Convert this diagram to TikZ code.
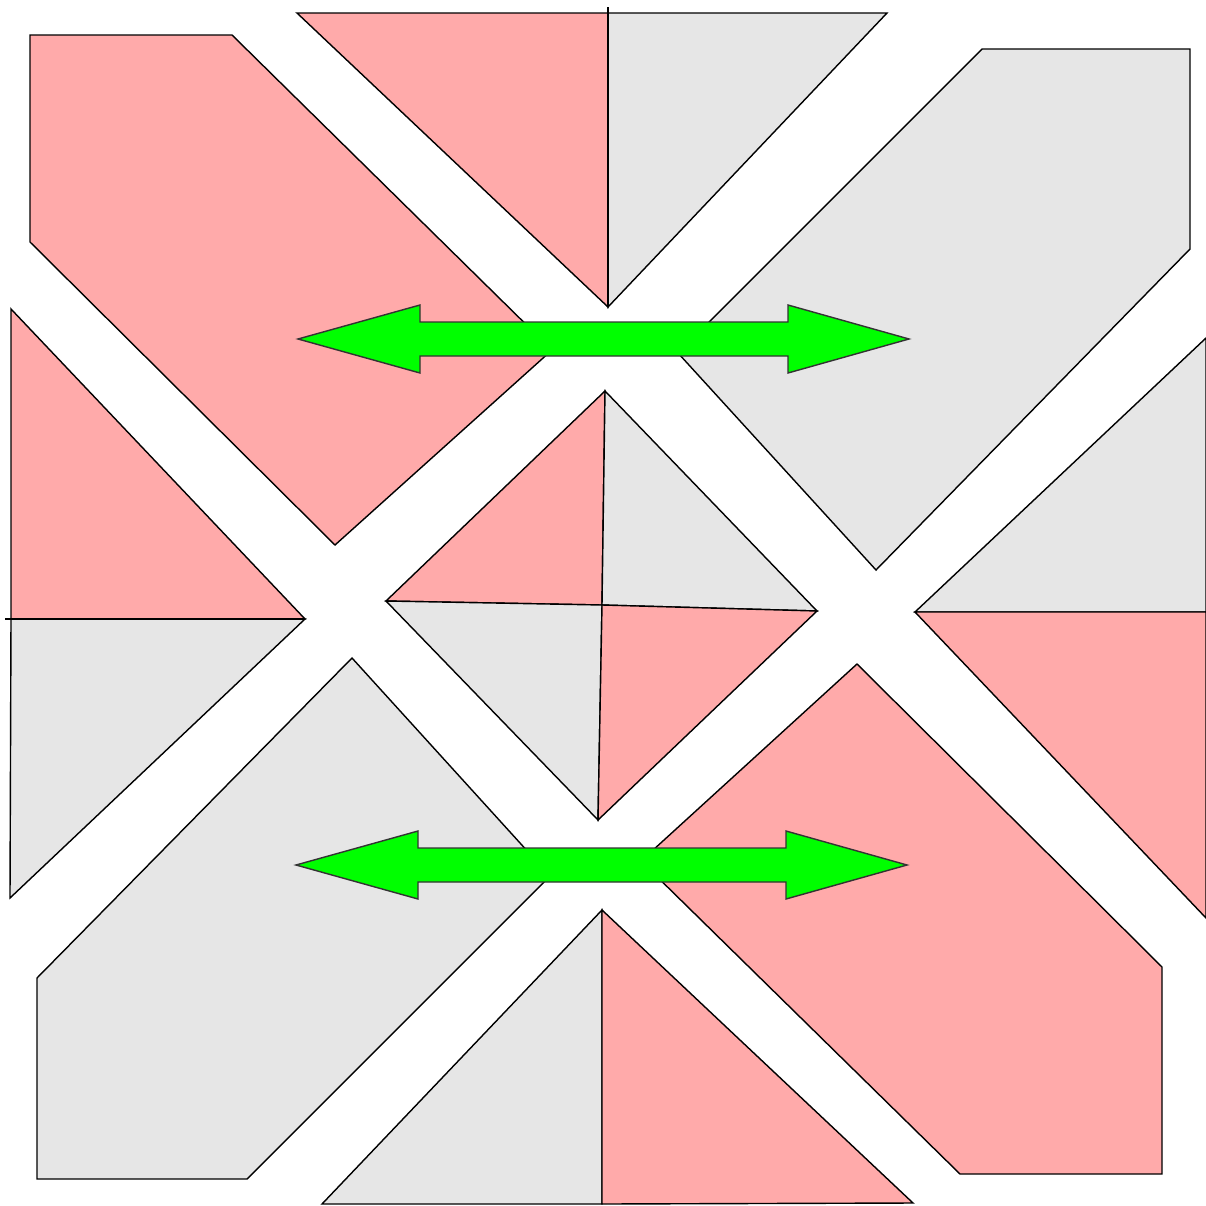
\documentclass[tikz,border=0pt]{standalone}
\usepackage{tikz}
\usepackage{xcolor}
\definecolor{tgpink}{RGB}{255,170,170}
\definecolor{tggray}{RGB}{230,230,230}
\definecolor{tggreen}{RGB}{0,255,0}
\tikzset{
  tgpiece/.style={draw=black, line width=.4pt, line join=miter},
  tgred/.style={tgpiece, fill=tgpink},
  tggrey/.style={tgpiece, fill=tggray},
  tgarrow/.style={draw=black!80, line width=.4pt, fill=tggreen}
}

\begin{document}
\begin{tikzpicture}[x=.01cm, y=-.01cm]
  \useasboundingbox (0,0) rectangle (1206,1206);
  % large hexagons
  \draw[tgred] (30,35) -- (232,35) -- (552,350) -- (335,545) -- (30,242) -- cycle;
  \draw[tggrey] (982,49) -- (1190,49) -- (1190,249) -- (876,570) -- (678,353) -- cycle;
  \draw[tggrey] (352,658) -- (550,876) -- (247,1179) -- (37,1179) -- (37,978) -- cycle;
  \draw[tgred] (857,664) -- (1162,967) -- (1162,1174) -- (960,1174) -- (641,861) -- cycle;
  % edge triangles
  \draw[tgred] (297,13) -- (608,13) -- (608,307) -- cycle;
  \draw[tggrey] (608,13) -- (887,13) -- (608,307) -- cycle;
  \draw (608,7) -- (608,307);
  \draw[tgred] (11,309) -- (11,619) -- (305,619) -- cycle;
  \draw[tggrey] (11,619) -- (305,619) -- (10,898) -- cycle;
  \draw (5,619) -- (305,619);
  \draw[tggrey] (915,612) -- (1206,338) -- (1206,612) -- cycle;
  \draw[tgred] (915,612) -- (1206,612) -- (1206,918) -- cycle;
  \draw[tggrey] (322,1204) -- (602,910) -- (602,1204) -- cycle;
  \draw[tgred] (602,910) -- (602,1204) -- (913,1203) -- cycle;
  % centre diamond
  \draw[tgred] (605,391) -- (386,601) -- (602,605) -- cycle;
  \draw[tggrey] (605,391) -- (602,605) -- (817,611) -- cycle;
  \draw[tggrey] (386,601) -- (602,605) -- (598,820) -- cycle;
  \draw[tgred] (602,605) -- (817,611) -- (598,820) -- cycle;
  % double arrows
  \foreach \ax/\ay in {298/339,296/865} {
    \draw[tgarrow] (\ax,\ay) -- ++(122,-34) -- ++(0,17) -- ++(368,0) -- ++(0,-17) -- ++(121,34)
      -- ++(-121,34) -- ++(0,-17) -- ++(-368,0) -- ++(0,17) -- cycle;
  }
\end{tikzpicture}
\end{document}
